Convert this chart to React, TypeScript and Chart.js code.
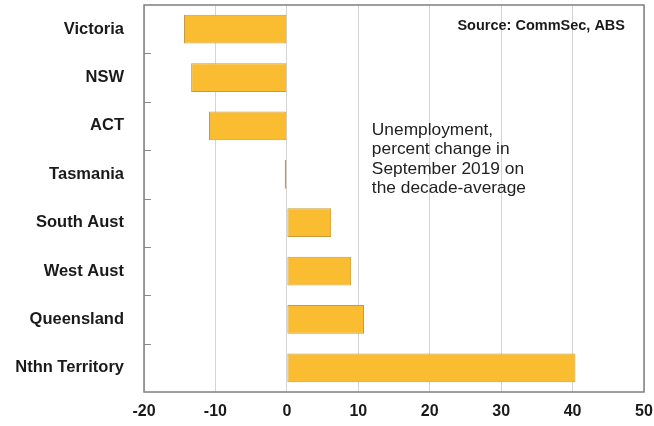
import React, { useEffect, useRef } from "react";
import { Chart, registerables } from "chart.js";

Chart.register(...registerables);

const categories = ["Victoria", "NSW", "ACT", "Tasmania", "South Aust", "West Aust", "Queensland", "Nthn Territory"];
const values = [-14.4, -13.4, -10.9, -0.3, 6.2, 9.0, 10.8, 40.4];
const xTicks = [-20, -10, 0, 10, 20, 30, 40, 50];
const sourceText = "Source: CommSec, ABS";
const noteLines = ["Unemployment,", "percent change in", "September 2019 on", "the decade-average"];

const FONT = "'Liberation Sans', Arial, sans-serif";

const framePlugin = {
  id: "frame",
  afterDraw(chart: any) {
    const { ctx, chartArea } = chart;
    const y = chart.scales.y;
    const x = chart.scales.x;
    ctx.save();
    // category ticks inside plot
    ctx.strokeStyle = "#8a8a8a";
    ctx.lineWidth = 1;
    for (let i = 0; i < categories.length - 1; i++) {
      const py = Math.round((y.getPixelForValue(i) + y.getPixelForValue(i + 1)) / 2) + 0.5;
      ctx.beginPath();
      ctx.moveTo(chartArea.left, py);
      ctx.lineTo(chartArea.left + 7, py);
      ctx.stroke();
    }
    // border
    ctx.strokeStyle = "#7f7f7f";
    ctx.lineWidth = 1.5;
    ctx.strokeRect(chartArea.left, chartArea.top, chartArea.right - chartArea.left, chartArea.bottom - chartArea.top);
    // source
    ctx.fillStyle = "#1a1a1a";
    ctx.font = `bold 14.5px ${FONT}`;
    ctx.textAlign = "right";
    ctx.textBaseline = "middle";
    ctx.fillText(sourceText, chartArea.right - 19, chartArea.top + 21);
    // note
    ctx.font = `16.5px ${FONT}`;
    ctx.textAlign = "left";
    ctx.textBaseline = "alphabetic";
    ctx.fillStyle = "#222";
    const nx = x.getPixelForValue(11.9);
    const ny = y.getPixelForValue(2) + 9;
    noteLines.forEach((l, i) => {
      ctx.save();
      ctx.translate(nx, ny + i * 19.3);
      ctx.scale(1.05, 1);
      ctx.fillText(l, 0, 0);
      ctx.restore();
    });
    ctx.restore();
  },
};

export default function App() {
  const ref = useRef<HTMLCanvasElement>(null);
  useEffect(() => {
    const chart = new Chart(ref.current!, {
      type: "bar",
      data: {
        labels: categories,
        datasets: [
          {
            data: values,
            backgroundColor: "#FABD32",
            borderColor: "#C99A3A",
            borderWidth: 1,
            borderSkipped: false,
            categoryPercentage: 0.8,
            barPercentage: 0.74,
          },
        ],
      },
      options: {
        indexAxis: "y",
        animation: false,
        responsive: false,
        devicePixelRatio: 1,
        layout: { padding: { top: 5, right: 10, left: 0, bottom: 0 } },
        plugins: { legend: { display: false }, tooltip: { enabled: false } },
        scales: {
          x: {
            min: xTicks[0],
            max: xTicks[xTicks.length - 1],
            afterBuildTicks: (s: any) => {
              s.ticks = xTicks.map((v) => ({ value: v }));
            },
            afterFit: (s: any) => {
              s.height = 34;
              s.paddingLeft = 0;
              s.paddingRight = 0;
            },
            grid: { color: "#d4d4d4", lineWidth: 1, drawTicks: false },
            border: { display: false },
            ticks: {
              padding: 10,
              color: "#1a1a1a",
              font: { family: FONT, size: 16, weight: "bold" },
            },
          },
          y: {
            afterFit: (s: any) => {
              s.width = 144;
              s.paddingTop = 0;
              s.paddingBottom = 0;
            },
            grid: { display: false, drawTicks: false },
            border: { display: false },
            ticks: {
              padding: 20,
              color: "#1a1a1a",
              font: { family: FONT, size: 16.5, weight: "bold" },
            },
          },
        },
      } as any,
      plugins: [framePlugin],
    });
    return () => chart.destroy();
  }, []);
  return (
    <div style={{ position: "fixed", left: 0, top: 0, width: 654, height: 426, background: "#fff" }}>
      <canvas ref={ref} width={654} height={426} />
    </div>
  );
}
